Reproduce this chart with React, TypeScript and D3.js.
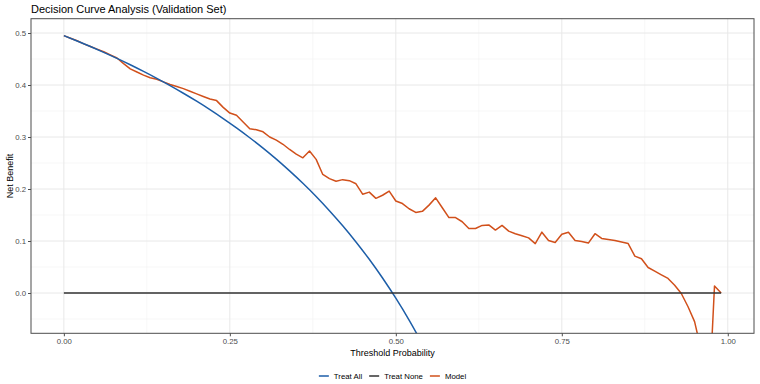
import * as d3 from "d3";
import { useEffect, useRef } from "react";

// model curve at 0.01 steps
const modelThreshold = [
  0.0, 0.01, 0.02, 0.03, 0.04, 0.05, 0.06, 0.07, 0.08, 0.09,
  0.1, 0.11, 0.12, 0.13, 0.14, 0.15, 0.16, 0.17, 0.18, 0.19,
  0.2, 0.21, 0.22, 0.23, 0.24, 0.25, 0.26, 0.27, 0.28, 0.29,
  0.3, 0.31, 0.32, 0.33, 0.34, 0.35, 0.36, 0.37, 0.38, 0.39,
  0.4, 0.41, 0.42, 0.43, 0.44, 0.45, 0.46, 0.47, 0.48, 0.49,
  0.5, 0.51, 0.52, 0.53, 0.54, 0.55, 0.56, 0.57, 0.58, 0.59,
  0.6, 0.61, 0.62, 0.63, 0.64, 0.65, 0.66, 0.67, 0.68, 0.69,
  0.7, 0.71, 0.72, 0.73, 0.74, 0.75, 0.76, 0.77, 0.78, 0.79,
  0.8, 0.81, 0.82, 0.83, 0.84, 0.85, 0.86, 0.87, 0.88, 0.89,
  0.9, 0.91, 0.92, 0.93, 0.94, 0.95, 0.96, 0.97, 0.98, 0.99,
];
const modelBenefit = [
  0.495, 0.49, 0.485, 0.479, 0.474, 0.469, 0.464, 0.458, 0.452, 0.441,
  0.431, 0.425, 0.419, 0.414, 0.411, 0.406, 0.401, 0.397, 0.393, 0.388,
  0.383, 0.378, 0.373, 0.37, 0.357, 0.346, 0.342, 0.329, 0.316, 0.314,
  0.31, 0.3, 0.294, 0.286, 0.276, 0.267, 0.26, 0.273, 0.257, 0.228,
  0.22, 0.215, 0.218, 0.216, 0.21, 0.19, 0.194, 0.182, 0.188, 0.196,
  0.177, 0.172, 0.162, 0.155, 0.157, 0.169, 0.183, 0.164, 0.145, 0.145,
  0.137, 0.124, 0.124, 0.13, 0.131, 0.121, 0.13, 0.119, 0.114, 0.11,
  0.106, 0.095, 0.117, 0.101, 0.097, 0.113, 0.117, 0.101, 0.099, 0.096,
  0.114, 0.105, 0.103, 0.101, 0.098, 0.095, 0.071, 0.066, 0.049, 0.042,
  0.035, 0.028, 0.015, -0.001, -0.026, -0.055, -0.11, -0.25, 0.0135, 0.0,
];

const treatAllThreshold = [
  0.0, 0.02, 0.04, 0.06, 0.08, 0.1, 0.12, 0.14, 0.16, 0.18, 0.2, 0.22, 0.24, 0.26,
  0.28, 0.3, 0.32, 0.34, 0.36, 0.38, 0.4, 0.42, 0.44, 0.46, 0.48, 0.5, 0.52, 0.54,
];
const treatAllBenefit = [
  0.495, 0.4847, 0.474, 0.4628, 0.4511, 0.4389, 0.4261, 0.4128, 0.3988, 0.3841,
  0.3688, 0.3526, 0.3355, 0.3176, 0.2986, 0.2786, 0.2574, 0.2348, 0.2109, 0.1855,
  0.1583, 0.1293, 0.0982, 0.0648, 0.0288, -0.01, -0.0521, -0.0978,
];

const treatNoneThreshold = [0.0, 0.99];
const treatNoneBenefit = [0, 0];

const xTicks = [0, 0.25, 0.5, 0.75, 1];
const xTickLabels = ["0.00", "0.25", "0.50", "0.75", "1.00"];
const xMinor = [0.125, 0.375, 0.625, 0.875];
const yTicks = [0, 0.1, 0.2, 0.3, 0.4, 0.5];
const yTickLabels = ["0.0", "0.1", "0.2", "0.3", "0.4", "0.5"];
const yMinor = [-0.05, 0.05, 0.15, 0.25, 0.35, 0.45];

const legendNames = ["Treat All", "Treat None", "Model"];
const legendColors = ["#1d5ea8", "#333333", "#d1501b"];

const font = "'Liberation Sans', Arial, sans-serif";

const App = () => {
  const svgRef = useRef<SVGSVGElement>(null);

  useEffect(() => {
    const svg = d3.select(svgRef.current);
    svg.selectAll("*").remove();

    const left = 31;
    const right = 754;
    const top = 18.7;
    const bottom = 333.3;

    const x = d3.scaleLinear().domain([-0.0495, 1.0395]).range([left, right]);
    const y = d3.scaleLinear().domain([-0.0775, 0.5275]).range([bottom, top]);

    svg
      .append("text")
      .attr("x", left)
      .attr("y", 12.5)
      .attr("font-size", 11)
      .attr("fill", "#000")
      .text("Decision Curve Analysis (Validation Set)");

    svg
      .append("defs")
      .append("clipPath")
      .attr("id", "panel")
      .append("rect")
      .attr("x", left)
      .attr("y", top)
      .attr("width", right - left)
      .attr("height", bottom - top);

    const grid = svg.append("g");
    grid
      .selectAll(".xmin")
      .data(xMinor)
      .enter()
      .append("line")
      .attr("x1", (d) => x(d))
      .attr("x2", (d) => x(d))
      .attr("y1", top)
      .attr("y2", bottom)
      .attr("stroke", "#f2f2f2")
      .attr("stroke-width", 0.6);
    grid
      .selectAll(".ymin")
      .data(yMinor)
      .enter()
      .append("line")
      .attr("x1", left)
      .attr("x2", right)
      .attr("y1", (d) => y(d))
      .attr("y2", (d) => y(d))
      .attr("stroke", "#f2f2f2")
      .attr("stroke-width", 0.6);
    grid
      .selectAll(".xmaj")
      .data(xTicks)
      .enter()
      .append("line")
      .attr("x1", (d) => x(d))
      .attr("x2", (d) => x(d))
      .attr("y1", top)
      .attr("y2", bottom)
      .attr("stroke", "#e8e8e8")
      .attr("stroke-width", 1);
    grid
      .selectAll(".ymaj")
      .data(yTicks)
      .enter()
      .append("line")
      .attr("x1", left)
      .attr("x2", right)
      .attr("y1", (d) => y(d))
      .attr("y2", (d) => y(d))
      .attr("stroke", "#e8e8e8")
      .attr("stroke-width", 1);

    const plot = svg.append("g").attr("clip-path", "url(#panel)");

    const line = d3
      .line<[number, number]>()
      .x((d) => x(d[0]))
      .y((d) => y(d[1]));

    const model = modelThreshold.map((t, i) => [t, modelBenefit[i]] as [number, number]);
    const treatAll = treatAllThreshold.map((t, i) => [t, treatAllBenefit[i]] as [number, number]);
    const treatNone = treatNoneThreshold.map((t, i) => [t, treatNoneBenefit[i]] as [number, number]);

    plot
      .append("path")
      .attr("d", line(model))
      .attr("fill", "none")
      .attr("stroke", legendColors[2])
      .attr("stroke-width", 1.5)
      .attr("stroke-linejoin", "round");
    plot
      .append("path")
      .attr("d", line.curve(d3.curveMonotoneX)(treatAll))
      .attr("fill", "none")
      .attr("stroke", legendColors[0])
      .attr("stroke-width", 1.5);
    plot
      .append("path")
      .attr("d", line.curve(d3.curveLinear)(treatNone))
      .attr("fill", "none")
      .attr("stroke", legendColors[1])
      .attr("stroke-width", 1.6);

    svg
      .append("rect")
      .attr("x", left)
      .attr("y", top)
      .attr("width", right - left)
      .attr("height", bottom - top)
      .attr("fill", "none")
      .attr("stroke", "#4d4d4d")
      .attr("stroke-width", 1);

    // axes
    const xAxis = svg
      .append("g")
      .attr("transform", `translate(0,${bottom})`)
      .call(
        d3
          .axisBottom(x)
          .tickValues(xTicks)
          .tickSize(3)
          .tickPadding(2)
          .tickFormat((_, i) => xTickLabels[i])
      );
    xAxis.select(".domain").remove();
    xAxis.selectAll("line").attr("stroke", "#4d4d4d");
    xAxis
      .selectAll("text")
      .attr("font-size", 7.8)
      .attr("font-family", font)
      .attr("fill", "#4d4d4d");

    const yAxis = svg
      .append("g")
      .attr("transform", `translate(${left},0)`)
      .call(
        d3
          .axisLeft(y)
          .tickValues(yTicks)
          .tickSize(3)
          .tickPadding(2)
          .tickFormat((_, i) => yTickLabels[i])
      );
    yAxis.select(".domain").remove();
    yAxis.selectAll("line").attr("stroke", "#4d4d4d");
    yAxis
      .selectAll("text")
      .attr("font-size", 7.8)
      .attr("font-family", font)
      .attr("fill", "#4d4d4d");

    svg
      .append("text")
      .attr("x", (left + right) / 2)
      .attr("y", 355.5)
      .attr("text-anchor", "middle")
      .attr("font-size", 9)
      .text("Threshold Probability");

    svg
      .append("text")
      .attr("transform", `translate(13,${(top + bottom) / 2}) rotate(-90)`)
      .attr("text-anchor", "middle")
      .attr("font-size", 9)
      .text("Net Benefit");

    // legend
    const legend = svg.append("g");
    const ly = 376;
    let cx = 0;
    legendNames.forEach((name, i) => {
      const item = legend.append("g").attr("transform", `translate(${cx},0)`);
      item
        .append("line")
        .attr("x1", 0)
        .attr("x2", 10)
        .attr("y1", ly)
        .attr("y2", ly)
        .attr("stroke", legendColors[i])
        .attr("stroke-width", 1.5);
      const txt = item
        .append("text")
        .attr("x", 15)
        .attr("y", ly + 2.8)
        .attr("font-size", 7.8)
        .attr("fill", "#000")
        .text(name);
      const w = (txt.node() as SVGTextElement).getComputedTextLength();
      cx += 15 + w + 7;
    });
    const total = cx - 7;
    legend.attr("transform", `translate(${(left + right) / 2 - total / 2},0)`);
  }, []);

  return (
    <svg
      ref={svgRef}
      width={760}
      height={384}
      style={{ position: "absolute", left: 0, top: 0, background: "#fff", fontFamily: font }}
    ></svg>
  );
};

export default App;
